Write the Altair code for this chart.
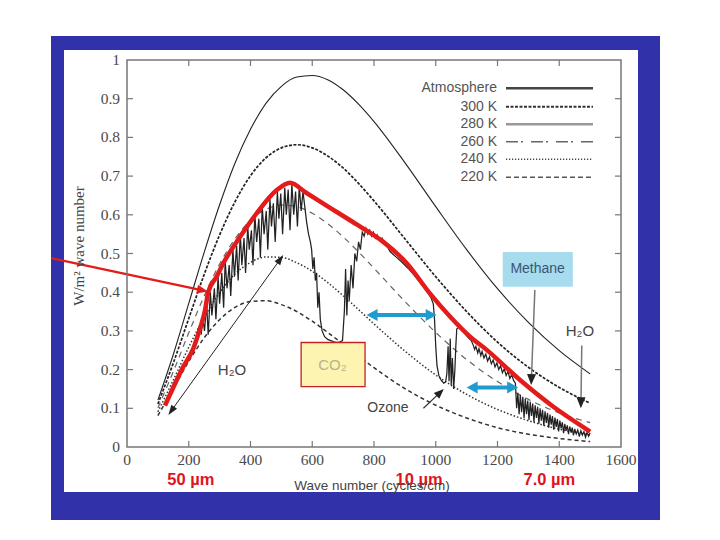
import math
import altair as alt
import pandas as pd

# Blackbody emission (W/m^2 per wave number) for five temperatures
bb_wn = [100, 150, 200, 250, 300, 350, 400, 450, 500, 550, 600, 650, 700, 750,
         800, 900, 1000, 1100, 1200, 1300, 1400, 1500]
bb_300 = [0.121, 0.239, 0.371, 0.503, 0.626, 0.734, 0.821, 0.888, 0.932, 0.956, 0.960,
          0.949, 0.923, 0.886, 0.841, 0.735, 0.621, 0.510, 0.409, 0.322, 0.249, 0.189]
bb_280 = [0.111, 0.217, 0.332, 0.446, 0.548, 0.634, 0.701, 0.747, 0.773, 0.781, 0.773,
          0.752, 0.721, 0.681, 0.636, 0.538, 0.440, 0.350, 0.271, 0.206, 0.154, 0.113]
bb_260 = [0.101, 0.195, 0.295, 0.390, 0.473, 0.538, 0.586, 0.614, 0.625, 0.621, 0.604,
          0.577, 0.543, 0.504, 0.462, 0.376, 0.296, 0.226, 0.169, 0.123, 0.088, 0.063]
bb_240 = [0.091, 0.173, 0.258, 0.335, 0.399, 0.447, 0.477, 0.491, 0.490, 0.476, 0.454,
          0.425, 0.391, 0.355, 0.318, 0.248, 0.186, 0.136, 0.097, 0.068, 0.046, 0.031]
bb_220 = [0.081, 0.151, 0.221, 0.282, 0.329, 0.361, 0.376, 0.378, 0.368, 0.350, 0.325,
          0.296, 0.266, 0.235, 0.205, 0.151, 0.108, 0.075, 0.050, 0.033, 0.022, 0.014]

# Measured outgoing spectrum at the top of the atmosphere
atm_wn = [240, 246, 251, 258, 263, 270, 275, 283, 288, 295, 300, 307, 313, 318, 324, 331,
          336, 343, 348, 355, 360, 367, 372, 379, 384, 391, 396, 403, 408, 414, 420, 427,
          432, 438, 444, 451, 456, 463, 468, 474, 480, 487, 492, 498, 504, 511, 516, 522,
          528, 534, 540, 546, 552, 558, 564, 570, 576, 582, 588, 594, 598, 602, 606, 610,
          614, 618, 622, 626, 632, 640, 650, 660, 670, 680, 690, 698, 704, 708, 712, 716,
          720, 726, 732, 738, 744, 750, 756, 762, 768, 774, 780, 786, 792, 798, 804, 810,
          818, 826, 834, 842, 852, 870, 890, 910, 930, 950, 970, 985, 992, 996, 1000, 1004,
          1010, 1018, 1026, 1032, 1036, 1040, 1043, 1047, 1050, 1054, 1058, 1062, 1065, 1068,
          1075, 1085, 1095, 1105, 1115, 1122, 1126, 1130, 1136, 1140, 1146, 1150, 1156, 1162,
          1168, 1174, 1180, 1186, 1192, 1198, 1204, 1210, 1216, 1222, 1228, 1234, 1240, 1246,
          1252, 1258, 1262, 1266, 1270, 1274, 1278, 1282, 1286, 1290, 1294, 1298, 1302, 1306,
          1310, 1314, 1318, 1322, 1326, 1330, 1334, 1338, 1342, 1346, 1350, 1354, 1358, 1362,
          1366, 1370, 1374, 1378, 1382, 1386, 1390, 1394, 1398, 1402, 1406, 1410, 1414, 1418,
          1422, 1426, 1430, 1434, 1438, 1442, 1446, 1450, 1455, 1460, 1465, 1470, 1475, 1480,
          1485, 1490, 1495, 1500]
atm_val = [0.29, 0.33, 0.30, 0.37, 0.29, 0.40, 0.34, 0.41, 0.33, 0.44, 0.37, 0.45, 0.36, 0.48,
           0.41, 0.47, 0.39, 0.51, 0.44, 0.52, 0.43, 0.55, 0.47, 0.54, 0.45, 0.57, 0.51, 0.56,
           0.47, 0.60, 0.53, 0.59, 0.49, 0.62, 0.55, 0.61, 0.51, 0.64, 0.57, 0.63, 0.53, 0.66,
           0.59, 0.655, 0.55, 0.67, 0.60, 0.665, 0.56, 0.68, 0.60, 0.66, 0.57, 0.675, 0.61,
           0.66, 0.62, 0.58, 0.55, 0.53, 0.51, 0.46, 0.49, 0.43, 0.45, 0.36, 0.40, 0.33, 0.30,
           0.285, 0.278, 0.275, 0.272, 0.27, 0.272, 0.275, 0.35, 0.46, 0.34, 0.43, 0.38, 0.47,
           0.41, 0.50, 0.48, 0.53, 0.51, 0.555, 0.545, 0.565, 0.55, 0.56, 0.545, 0.555, 0.54,
           0.548, 0.535, 0.54, 0.525, 0.52, 0.505, 0.492, 0.478, 0.462, 0.444, 0.424, 0.404,
           0.385, 0.37, 0.33, 0.26, 0.21, 0.185, 0.172, 0.165, 0.168, 0.19, 0.26, 0.17, 0.28,
           0.16, 0.23, 0.15, 0.20, 0.26, 0.305, 0.31, 0.302, 0.293, 0.283, 0.275, 0.262, 0.252,
           0.26, 0.243, 0.254, 0.236, 0.247, 0.23, 0.24, 0.222, 0.233, 0.215, 0.225, 0.207,
           0.217, 0.20, 0.21, 0.192, 0.202, 0.185, 0.195, 0.177, 0.187, 0.172, 0.165, 0.10,
           0.14, 0.085, 0.135, 0.09, 0.13, 0.075, 0.125, 0.085, 0.12, 0.07, 0.117, 0.08, 0.112,
           0.065, 0.108, 0.075, 0.104, 0.06, 0.10, 0.068, 0.096, 0.055, 0.092, 0.062, 0.088,
           0.05, 0.084, 0.058, 0.08, 0.045, 0.076, 0.052, 0.072, 0.04, 0.068, 0.048, 0.064,
           0.036, 0.06, 0.042, 0.056, 0.033, 0.053, 0.038, 0.05, 0.03, 0.047, 0.034, 0.044,
           0.027, 0.042, 0.031, 0.04, 0.025, 0.038, 0.028, 0.036]

# Hand-drawn envelope over the spectrum
env_wn = [123, 182, 215, 236, 253, 263, 290, 312, 366, 420, 485, 528, 580, 636, 690, 744,
          830, 906, 981, 1046, 1111, 1165, 1273, 1381, 1500]
env_val = [0.107, 0.207, 0.255, 0.305, 0.354, 0.400, 0.440, 0.475, 0.543, 0.604, 0.664,
           0.683, 0.657, 0.629, 0.602, 0.575, 0.530, 0.475, 0.397, 0.337, 0.285, 0.251,
           0.173, 0.104, 0.040]

x_ticks = [0, 200, 400, 600, 800, 1000, 1200, 1400, 1600]
y_ticks = [0, 0.1, 0.2, 0.3, 0.4, 0.5, 0.6, 0.7, 0.8, 0.9, 1]
wavelength_labels = ["50 µm", "10 µm", "7.0 µm"]
wavelength_pos = [207, 946, 1368]
legend_names = ["Atmosphere", "300 K", "280 K", "260 K", "240 K", "220 K"]

# ---------------------------------------------------------------- geometry
W, H = 494, 387
X_MAX, Y_MAX = 1600, 1.0
SX, SY = W / X_MAX, H / Y_MAX

x_scale = alt.Scale(domain=[0, X_MAX], nice=False, zero=False)
y_scale = alt.Scale(domain=[0, Y_MAX], nice=False, zero=False)

SANS = "Liberation Sans"
SERIF = "Liberation Serif"
one = pd.DataFrame({"k": [0]})


def X(f):
    return alt.X(f, type="quantitative", scale=x_scale, axis=None)


def Y(f):
    return alt.Y(f, type="quantitative", scale=y_scale, axis=None)


layers = []

# slide frame and white panel
layers.append(alt.Chart(one).mark_rect(color="#3131a9").encode(
    x=alt.value(-76), x2=alt.value(533), y=alt.value(-24), y2=alt.value(460)))
layers.append(alt.Chart(one).mark_rect(color="white").encode(
    x=alt.value(-63), x2=alt.value(511), y=alt.value(-10), y2=alt.value(432)))

# inward ticks on all four sides
xt = pd.DataFrame({"v": x_ticks[1:-1]})
yt = pd.DataFrame({"v": y_ticks[1:-1]})
tick_style = dict(color="#777", strokeWidth=1.2)
layers.append(alt.Chart(xt).mark_rule(**tick_style).encode(
    x=X("v"), y=alt.value(H - 6), y2=alt.value(H)))
layers.append(alt.Chart(xt).mark_rule(**tick_style).encode(
    x=X("v"), y=alt.value(0), y2=alt.value(6)))
layers.append(alt.Chart(yt).mark_rule(**tick_style).encode(
    y=Y("v"), x=alt.value(0), x2=alt.value(6)))
layers.append(alt.Chart(yt).mark_rule(**tick_style).encode(
    y=Y("v"), x=alt.value(W - 6), x2=alt.value(W)))

# tick labels, placed through the scales
xl = pd.DataFrame({"v": x_ticks, "t": [str(v) for v in x_ticks]})
yl = pd.DataFrame({"v": y_ticks, "t": [f"{v:g}" for v in y_ticks]})
layers.append(alt.Chart(xl).mark_text(font=SERIF, fontSize=15.5, color="#4a4a4a",
                                      baseline="top", align="center").encode(
    x=X("v"), y=alt.value(H + 6), text="t:N"))
layers.append(alt.Chart(yl).mark_text(font=SERIF, fontSize=15.5, color="#4a4a4a",
                                      baseline="middle", align="right").encode(
    y=Y("v"), x=alt.value(-7), text="t:N"))

# blackbody curves
bb = pd.DataFrame({"wn": bb_wn, "t300": bb_300, "t280": bb_280, "t260": bb_260,
                   "t240": bb_240, "t220": bb_220})
curve_styles = [
    ("t220", "#333", 1.5, [4, 3]),
    ("t240", "#333", 1.5, [1.5, 2]),
    ("t260", "#666", 1.2, [6, 5]),
    ("t280", "#222", 1.7, [3, 1.5]),
    ("t300", "#222", 1.1, None),
]
for col, c, w, dash in curve_styles:
    kw = dict(color=c, strokeWidth=w, interpolate="monotone")
    if dash:
        kw["strokeDash"] = dash
    layers.append(alt.Chart(bb).mark_line(**kw).encode(x=X("wn"), y=Y(col)))

# spectrum
atm = pd.DataFrame({"wn": atm_wn, "val": atm_val})
layers.append(alt.Chart(atm).mark_line(color="#222", strokeWidth=1.25).encode(
    x=X("wn"), y=Y("val")))

# red envelope
env = pd.DataFrame({"wn": env_wn, "val": env_val})
layers.append(alt.Chart(env).mark_line(color="#e31b1b", strokeWidth=4.5,
                                       interpolate="monotone").encode(
    x=X("wn"), y=Y("val")))

# labelled boxes
boxes = [
    dict(x0=564, x1=771, y0=0.156, y1=0.270, fill="#fcf4b0", stroke="#c82020"),
    dict(x0=1217, x1=1444, y0=0.414, y1=0.504, fill="#a7dbee", stroke=None),
]
for b in boxes:
    kw = dict(color=b["fill"])
    if b["stroke"]:
        kw.update(stroke=b["stroke"], strokeWidth=1.3)
    d = pd.DataFrame([b])
    layers.append(alt.Chart(d).mark_rect(**kw).encode(
        x=X("x0"), x2="x1", y=Y("y0"), y2="y1"))


# arrows
def to_px(w, v):
    return w * SX, (Y_MAX - v) * SY


def to_data(px, py):
    return px / SX, Y_MAX - py / SY


arrows = [
    dict(s=(-246, 0.488), e=(262, 0.402), both=False, c="#e31b1b", w=2.2, hc="#e31b1b", L=11, hw=9),
    dict(s=(134, 0.083), e=(506, 0.496), both=True, c="#222", w=1, hc="#222", L=10, hw=7),
    dict(s=(776, 0.341), e=(1003, 0.341), both=True, c="#1f9bcf", w=4, hc="#1f9bcf", L=11, hw=12),
    dict(s=(1100, 0.154), e=(1267, 0.154), both=True, c="#1f9bcf", w=4, hc="#1f9bcf", L=11, hw=12),
    dict(s=(1321, 0.406), e=(1309, 0.160), both=False, c="#777", w=1.5, hc="#222", L=11, hw=9),
    dict(s=(1473, 0.262), e=(1470, 0.100), both=False, c="#777", w=1.5, hc="#222", L=11, hw=9),
    dict(s=(960, 0.100), e=(1026, 0.150), both=False, c="#333", w=1.2, hc="#222", L=10, hw=8),
]
for a in arrows:
    x0, y0 = to_px(*a["s"])
    x1, y1 = to_px(*a["e"])
    dx, dy = x1 - x0, y1 - y0
    n = math.hypot(dx, dy)
    ux, uy = dx / n, dy / n
    ang = math.degrees(math.atan2(ux, -uy)) % 360
    cut = 0.6 * a["L"]
    heads = [(x1, y1, ang)]
    lx1, ly1 = x1 - ux * cut, y1 - uy * cut
    lx0, ly0 = x0, y0
    if a["both"]:
        heads.append((x0, y0, (ang + 180) % 360))
        lx0, ly0 = x0 + ux * cut, y0 + uy * cut
    sx0, sy0 = to_data(lx0, ly0)
    sx1, sy1 = to_data(lx1, ly1)
    seg = pd.DataFrame({"xa": [sx0], "ya": [sy0], "xb": [sx1], "yb": [sy1]})
    layers.append(alt.Chart(seg).mark_rule(color=a["c"], strokeWidth=a["w"]).encode(
        x=X("xa"), y=Y("ya"), x2="xb", y2="yb"))
    hd = pd.DataFrame([{"hx": to_data(hx, hy)[0], "hy": to_data(hx, hy)[1], "ang": h_ang}
                       for hx, hy, h_ang in heads])
    half = a["hw"] / (2 * a["L"])
    path = f"M0,0L{half:.3f},1L{-half:.3f},1Z"
    layers.append(alt.Chart(hd).mark_point(shape=path, filled=True, size=(2 * a["L"]) ** 2,
                                           color=a["hc"], opacity=1, strokeWidth=0).encode(
        x=X("hx"), y=Y("hy"), angle=alt.Angle("ang:Q", scale=None)))

# annotation texts
notes = [
    ("H₂O", 340, 0.200, 15, "#444"),
    ("H₂O", 1467, 0.300, 15, "#444"),
    ("Ozone", 845, 0.100, 14, "#444"),
    ("Methane", 1330, 0.459, 14, "#3a5578"),
    ("CO₂", 665, 0.212, 15, "#b8b288"),
]
for t, wx, wy, fs, c in notes:
    d = pd.DataFrame({"wx": [wx], "wy": [wy], "t": [t]})
    layers.append(alt.Chart(d).mark_text(font=SANS, fontSize=fs, color=c,
                                         baseline="middle", align="center").encode(
        x=X("wx"), y=Y("wy"), text="t:N"))

# wavelength markers under the axis
wl = pd.DataFrame({"wx": wavelength_pos, "t": wavelength_labels})
layers.append(alt.Chart(wl).mark_text(font=SANS, fontSize=16.5, fontWeight="bold",
                                      color="#e0141e", baseline="middle").encode(
    x=X("wx"), y=alt.value(420), text="t:N"))

# axis titles
layers.append(alt.Chart(one).mark_text(text="Wave number (cycles/cm)", font=SANS,
                                       fontSize=13.5, color="#444", baseline="middle").encode(
    x=alt.value(245), y=alt.value(426)))
layers.append(alt.Chart(one).mark_text(text="W/m² wave number", font=SERIF, fontSize=15,
                                       color="#444", angle=270, baseline="middle").encode(
    x=alt.value(-48), y=alt.value(186)))

# legend
legend_styles = [
    ("#444", 2.5, None),
    ("#333", 2.0, [3, 1.5]),
    ("#999", 2.5, None),
    ("#666", 1.5, [12, 3, 2, 8]),
    ("#444", 1.5, [1.2, 1.8]),
    ("#555", 1.5, [5, 3]),
]
row_y = [28.3, 46.7, 64.3, 81.7, 99.3, 117.3]
for name, (c, w, dash), ry in zip(legend_names, legend_styles, row_y):
    d = pd.DataFrame({"t": [name]})
    layers.append(alt.Chart(d).mark_text(font=SANS, fontSize=14, color="#555",
                                         align="right", baseline="middle").encode(
        x=alt.value(370), y=alt.value(ry), text="t:N"))
    kw = dict(color=c, strokeWidth=w)
    if dash:
        kw["strokeDash"] = dash
    layers.append(alt.Chart(d).mark_rule(**kw).encode(
        x=alt.value(379), x2=alt.value(466), y=alt.value(ry)))

# plot frame
layers.append(alt.Chart(one).mark_rect(fillOpacity=0, stroke="#777", strokeWidth=1.5).encode(
    x=alt.value(0), x2=alt.value(W), y=alt.value(0), y2=alt.value(H)))

chart = alt.layer(*layers).properties(
    width=W, height=H,
    padding={"left": 127, "top": 60, "right": 99, "bottom": 93},
    autosize=alt.AutoSizeParams(type="none"),
    background="white",
).configure_view(strokeWidth=0)

chart.save("out.html", embed_options={"renderer": "svg", "actions": False})
